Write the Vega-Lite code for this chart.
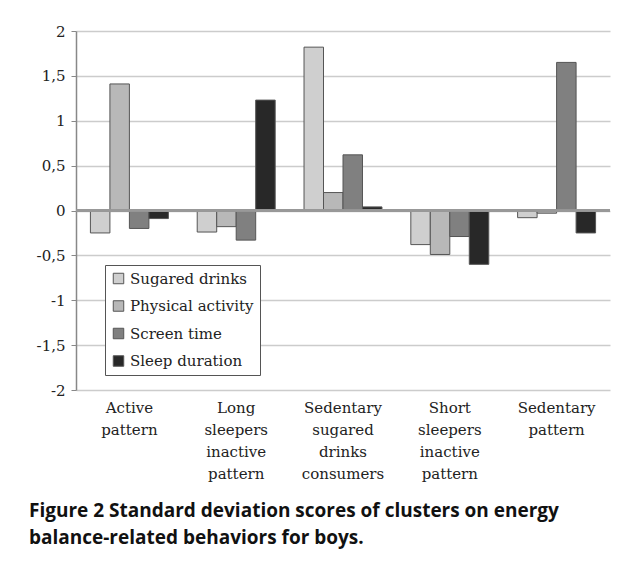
{
  "$schema": "https://vega.github.io/schema/vega-lite/v6.json",
  "width": 534,
  "height": 359,
  "autosize": {"type": "none"},
  "padding": {"left": 76, "top": 31, "right": 24, "bottom": 172},
  "background": "white",
  "title": {
    "text": ["Figure 2 Standard deviation scores of clusters on energy", "balance-related behaviors for boys."],
    "orient": "bottom",
    "anchor": "start",
    "frame": "group",
    "dx": -47,
    "offset": 21,
    "font": "Open Sans",
    "fontSize": 19,
    "fontWeight": "bold",
    "lineHeight": 27,
    "color": "#111"
  },
  "data": {
    "values": [
      {"cluster": "Active pattern", "behavior": "Sugared drinks", "score": -0.25},
      {"cluster": "Active pattern", "behavior": "Physical activity", "score": 1.41},
      {"cluster": "Active pattern", "behavior": "Screen time", "score": -0.2},
      {"cluster": "Active pattern", "behavior": "Sleep duration", "score": -0.09},
      {"cluster": "Long sleepers inactive pattern", "behavior": "Sugared drinks", "score": -0.24},
      {"cluster": "Long sleepers inactive pattern", "behavior": "Physical activity", "score": -0.18},
      {"cluster": "Long sleepers inactive pattern", "behavior": "Screen time", "score": -0.33},
      {"cluster": "Long sleepers inactive pattern", "behavior": "Sleep duration", "score": 1.23},
      {"cluster": "Sedentary sugared drinks consumers", "behavior": "Sugared drinks", "score": 1.82},
      {"cluster": "Sedentary sugared drinks consumers", "behavior": "Physical activity", "score": 0.2},
      {"cluster": "Sedentary sugared drinks consumers", "behavior": "Screen time", "score": 0.62},
      {"cluster": "Sedentary sugared drinks consumers", "behavior": "Sleep duration", "score": 0.04},
      {"cluster": "Short sleepers inactive pattern", "behavior": "Sugared drinks", "score": -0.38},
      {"cluster": "Short sleepers inactive pattern", "behavior": "Physical activity", "score": -0.49},
      {"cluster": "Short sleepers inactive pattern", "behavior": "Screen time", "score": -0.29},
      {"cluster": "Short sleepers inactive pattern", "behavior": "Sleep duration", "score": -0.6},
      {"cluster": "Sedentary pattern", "behavior": "Sugared drinks", "score": -0.08},
      {"cluster": "Sedentary pattern", "behavior": "Physical activity", "score": -0.03},
      {"cluster": "Sedentary pattern", "behavior": "Screen time", "score": 1.65},
      {"cluster": "Sedentary pattern", "behavior": "Sleep duration", "score": -0.25}
    ]
  },
  "layer": [
    {
      "mark": {"type": "bar", "stroke": "#555", "strokeWidth": 1},
      "encoding": {
        "x": {
          "field": "cluster",
          "type": "nominal",
          "sort": null,
          "scale": {"paddingInner": 0.27, "paddingOuter": 0.135},
          "axis": {
            "title": null,
            "labelAngle": 0,
            "domain": false,
            "ticks": false,
            "labelFont": "DejaVu Serif",
            "labelFontSize": 15,
            "labelColor": "#222",
            "labelLineHeight": 22,
            "labelBaseline": "top",
            "labelPadding": 10,
            "labelExpr": "datum.value == 'Active pattern' ? ['Active', 'pattern'] : datum.value == 'Long sleepers inactive pattern' ? ['Long', 'sleepers', 'inactive', 'pattern'] : datum.value == 'Sedentary sugared drinks consumers' ? ['Sedentary', 'sugared', 'drinks', 'consumers'] : datum.value == 'Short sleepers inactive pattern' ? ['Short', 'sleepers', 'inactive', 'pattern'] : ['Sedentary', 'pattern']"
          }
        },
        "xOffset": {
          "field": "behavior",
          "type": "nominal",
          "sort": ["Sugared drinks", "Physical activity", "Screen time", "Sleep duration"],
          "scale": {"paddingInner": 0, "paddingOuter": 0}
        },
        "y": {
          "field": "score",
          "type": "quantitative",
          "scale": {"domain": [-2, 2], "nice": false},
          "axis": {
            "title": null,
            "values": [-2, -1.5, -1, -0.5, 0, 0.5, 1, 1.5, 2],
            "labelExpr": "replace(toString(datum.value), '.', ',')",
            "labelFont": "DejaVu Serif",
            "labelFontSize": 15,
            "labelColor": "#222",
            "labelPadding": 6,
            "grid": true,
            "gridColor": "#cccccc",
            "gridWidth": 1.5,
            "domainColor": "#888",
            "domainWidth": 1.5,
            "tickColor": "#888",
            "tickSize": 5
          }
        },
        "color": {
          "field": "behavior",
          "type": "nominal",
          "sort": ["Sugared drinks", "Physical activity", "Screen time", "Sleep duration"],
          "scale": {
            "domain": ["Sugared drinks", "Physical activity", "Screen time", "Sleep duration"],
            "range": ["#cfcfcf", "#b8b8b8", "#808080", "#282828"]
          },
          "legend": {
            "title": null,
            "orient": "none",
            "legendX": 29,
            "legendY": 234,
            "symbolType": "square",
            "symbolSize": 110,
            "symbolStrokeColor": "#555",
            "symbolStrokeWidth": 1,
            "labelFont": "DejaVu Serif",
            "labelFontSize": 15,
            "labelColor": "#222",
            "labelOffset": 4,
            "rowPadding": 11.5,
            "padding": 6,
            "strokeColor": "#555",
            "fillColor": "white"
          }
        }
      }
    },
    {
      "mark": {"type": "rule", "color": "#999", "strokeWidth": 1.5},
      "encoding": {"y": {"datum": 0}}
    }
  ],
  "config": {
    "view": {"stroke": null}
  }
}
